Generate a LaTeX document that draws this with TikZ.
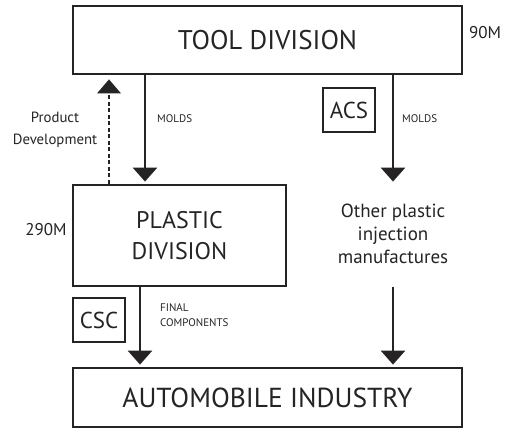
\documentclass[tikz,border=0pt]{standalone}
\usepackage{fontspec}
\setmainfont{PT Sans}
\usetikzlibrary{arrows.meta}
\definecolor{ink}{HTML}{262324}
\tikzset{
  bigbox/.style={draw=ink, line width=2.8pt, inner sep=0pt, text=ink},
  smallbox/.style={draw=ink, line width=1.3pt, inner sep=0pt, minimum width=52pt, minimum height=44pt, text=ink, font=\fontsize{23}{26}\selectfont},
  flow/.style={draw=ink, line width=2.8pt, -{Triangle[width=24pt,length=14pt]}, shorten >=2pt},
  back/.style={draw=ink, line width=1.2pt, dashed, dash pattern=on 4pt off 2.5pt, -{Triangle[width=24pt,length=14pt,line width=0pt]}, shorten >=4pt},
  lbl/.style={text=ink, inner sep=0pt},
  tiny/.style={lbl, font=\fontsize{11}{15}\selectfont},
  bigtext/.style={font=\fontsize{27}{33}\selectfont}
}
\begin{document}
\begin{tikzpicture}[x=1pt,y=-1pt]
\useasboundingbox (0,0) rectangle (508,433);
\node[bigbox, bigtext, minimum width=389pt, minimum height=68pt] (tool) at (267.5,40) {TOOL DIVISION};
\node[bigbox, font=\fontsize{24}{31}\selectfont, minimum width=213pt, minimum height=101pt, align=center] (plastic) at (179.5,235.5) {PLASTIC\\DIVISION};
\node[bigbox, font=\fontsize{27.5}{33}\selectfont, minimum width=389pt, minimum height=59pt] (auto) at (267.5,397.5) {AUTOMOBILE INDUSTRY};
\node[smallbox] (acs) at (349,110) {ACS};
\node[smallbox] (csc) at (99,320) {CSC};
\node[lbl, font=\fontsize{19}{23}\selectfont, align=center] (other) at (393,234) {Other plastic\\injection\\manufactures};
\node[lbl, font=\fontsize{14.8}{22}\selectfont, align=center] (pd) at (55,130) {Product\\Development};
\node[lbl, font=\fontsize{17}{18}\selectfont] (m90) at (485,33) {90M};
\node[lbl, font=\fontsize{17}{18}\selectfont] (m290) at (46,230) {290M};
\node[tiny, anchor=west] (molds1) at (157,119) {MOLDS};
\node[tiny, anchor=west] (molds2) at (402,119) {MOLDS};
\node[tiny, anchor=west, align=left] (final) at (160,315.5) {FINAL\\COMPONENTS};
\coordinate (xl) at (145,0);
\coordinate (xd) at (109,0);
\coordinate (xr) at (393,0);
\coordinate (xf) at (140,0);
\draw[flow] (tool.south -| xl) -- (plastic.north -| xl);
\draw[flow] (tool.south -| xr) -- (plastic.north -| xr);
\draw[back] (plastic.north -| xd) -- (tool.south -| xd);
\draw[flow] (plastic.south -| xf) -- (auto.north -| xf);
\draw[flow] (plastic.south -| xr) -- (auto.north -| xr);
\end{tikzpicture}
\end{document}
